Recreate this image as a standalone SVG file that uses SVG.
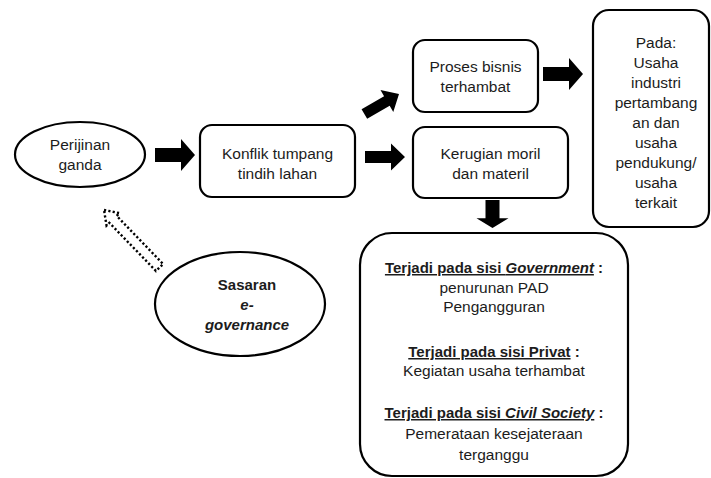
<svg xmlns="http://www.w3.org/2000/svg" width="711" height="478" viewBox="0 0 711 478">
  <style>
    .box { fill: #ffffff; stroke: #000000; stroke-width: 2.2; }
    .t { font-family: "Liberation Sans", Arial, sans-serif; font-size: 15.5px; fill: #1c1c1c; text-anchor: middle; }
    .b { font-weight: bold; font-size: 15px; }
    .i { font-style: italic; }
    .u { text-decoration: underline; }
    .arrow { fill: #000000; }
    .hollow { fill: none; stroke: #000000; stroke-width: 2.4; stroke-dasharray: 2.2 2.2; }
  </style>
  <defs>
    <!-- block arrow pointing right, tip at origin, length 40 -->
    <polygon id="blockArrow" points="-40,-7 -14,-7 -14,-16 0,0 -14,16 -14,7 -40,7"/>
  </defs>
  <rect width="711" height="478" fill="#ffffff"/>

  <g id="perijinan">
    <ellipse class="box" cx="80" cy="154.5" rx="65" ry="32.5"/>
    <text class="t" x="80" y="150">Perijinan</text>
    <text class="t" x="80" y="170">ganda</text>
  </g>

  <g id="konflik">
    <rect class="box" x="200" y="125" width="155" height="72" rx="12"/>
    <text class="t" x="277.5" y="159">Konflik tumpang</text>
    <text class="t" x="277.5" y="179">tindih lahan</text>
  </g>

  <g id="proses">
    <rect class="box" x="413" y="40" width="125" height="72" rx="12"/>
    <text class="t" x="475.5" y="72">Proses bisnis</text>
    <text class="t" x="475.5" y="92">terhambat</text>
  </g>

  <g id="kerugian">
    <rect class="box" x="413" y="127" width="155" height="71" rx="12"/>
    <text class="t" x="490.5" y="159">Kerugian moril</text>
    <text class="t" x="490.5" y="179">dan materil</text>
  </g>

  <g id="pada">
    <rect class="box" x="593" y="10" width="116" height="217" rx="16"/>
    <text class="t" x="656" y="48">Pada:</text>
    <text class="t" x="656" y="68">Usaha</text>
    <text class="t" x="656" y="88">industri</text>
    <text class="t" x="656" y="108">pertambang</text>
    <text class="t" x="656" y="128">an dan</text>
    <text class="t" x="656" y="148">usaha</text>
    <text class="t" x="656" y="168">pendukung/</text>
    <text class="t" x="656" y="188">usaha</text>
    <text class="t" x="656" y="208">terkait</text>
  </g>

  <g id="dampak">
    <rect class="box" x="360" y="233" width="268" height="243" rx="32"/>
    <text class="t" x="494" y="273"><tspan class="b u">Terjadi pada sisi <tspan class="i">Government</tspan></tspan><tspan class="b"> :</tspan></text>
    <text class="t" x="494" y="293">penurunan PAD</text>
    <text class="t" x="494" y="312">Pengangguran</text>
    <text class="t" x="494" y="357"><tspan class="b u">Terjadi pada sisi Privat</tspan><tspan class="b"> :</tspan></text>
    <text class="t" x="494" y="376">Kegiatan usaha terhambat</text>
    <text class="t" x="494" y="418"><tspan class="b u">Terjadi pada sisi <tspan class="i">Civil Society</tspan></tspan><tspan class="b"> :</tspan></text>
    <text class="t" x="494" y="439">Pemerataan kesejateraan</text>
    <text class="t" x="494" y="460">terganggu</text>
  </g>

  <g id="sasaran">
    <ellipse class="box" cx="240" cy="304" rx="85" ry="52"/>
    <text class="t b" x="247" y="290">Sasaran</text>
    <text class="t b i" x="247" y="310">e-</text>
    <text class="t b i" x="247" y="330">governance</text>
  </g>

  <g id="connectors">
    <!-- Perijinan -> Konflik -->
    <use href="#blockArrow" class="arrow" transform="translate(195,155)"/>
    <!-- Konflik -> Kerugian -->
    <use href="#blockArrow" class="arrow" transform="translate(405,157) scale(1,0.85)"/>
    <!-- Konflik -> Proses (diagonal) -->
    <use href="#blockArrow" class="arrow" transform="translate(399,94) rotate(-30) scale(1,0.8)"/>
    <!-- Proses -> Pada -->
    <use href="#blockArrow" class="arrow" transform="translate(583,74)"/>
    <!-- Kerugian -> dampak -->
    <use href="#blockArrow" class="arrow" transform="translate(492.5,228) rotate(90) scale(0.7,1)"/>
    <!-- Sasaran -> Perijinan (dotted hollow arrow) -->
    <polygon class="hollow" transform="translate(104,210) rotate(46)" points="0,0 13,-9 13,-5 80,-5 80,5 13,5 13,9"/>
  </g>
</svg>
